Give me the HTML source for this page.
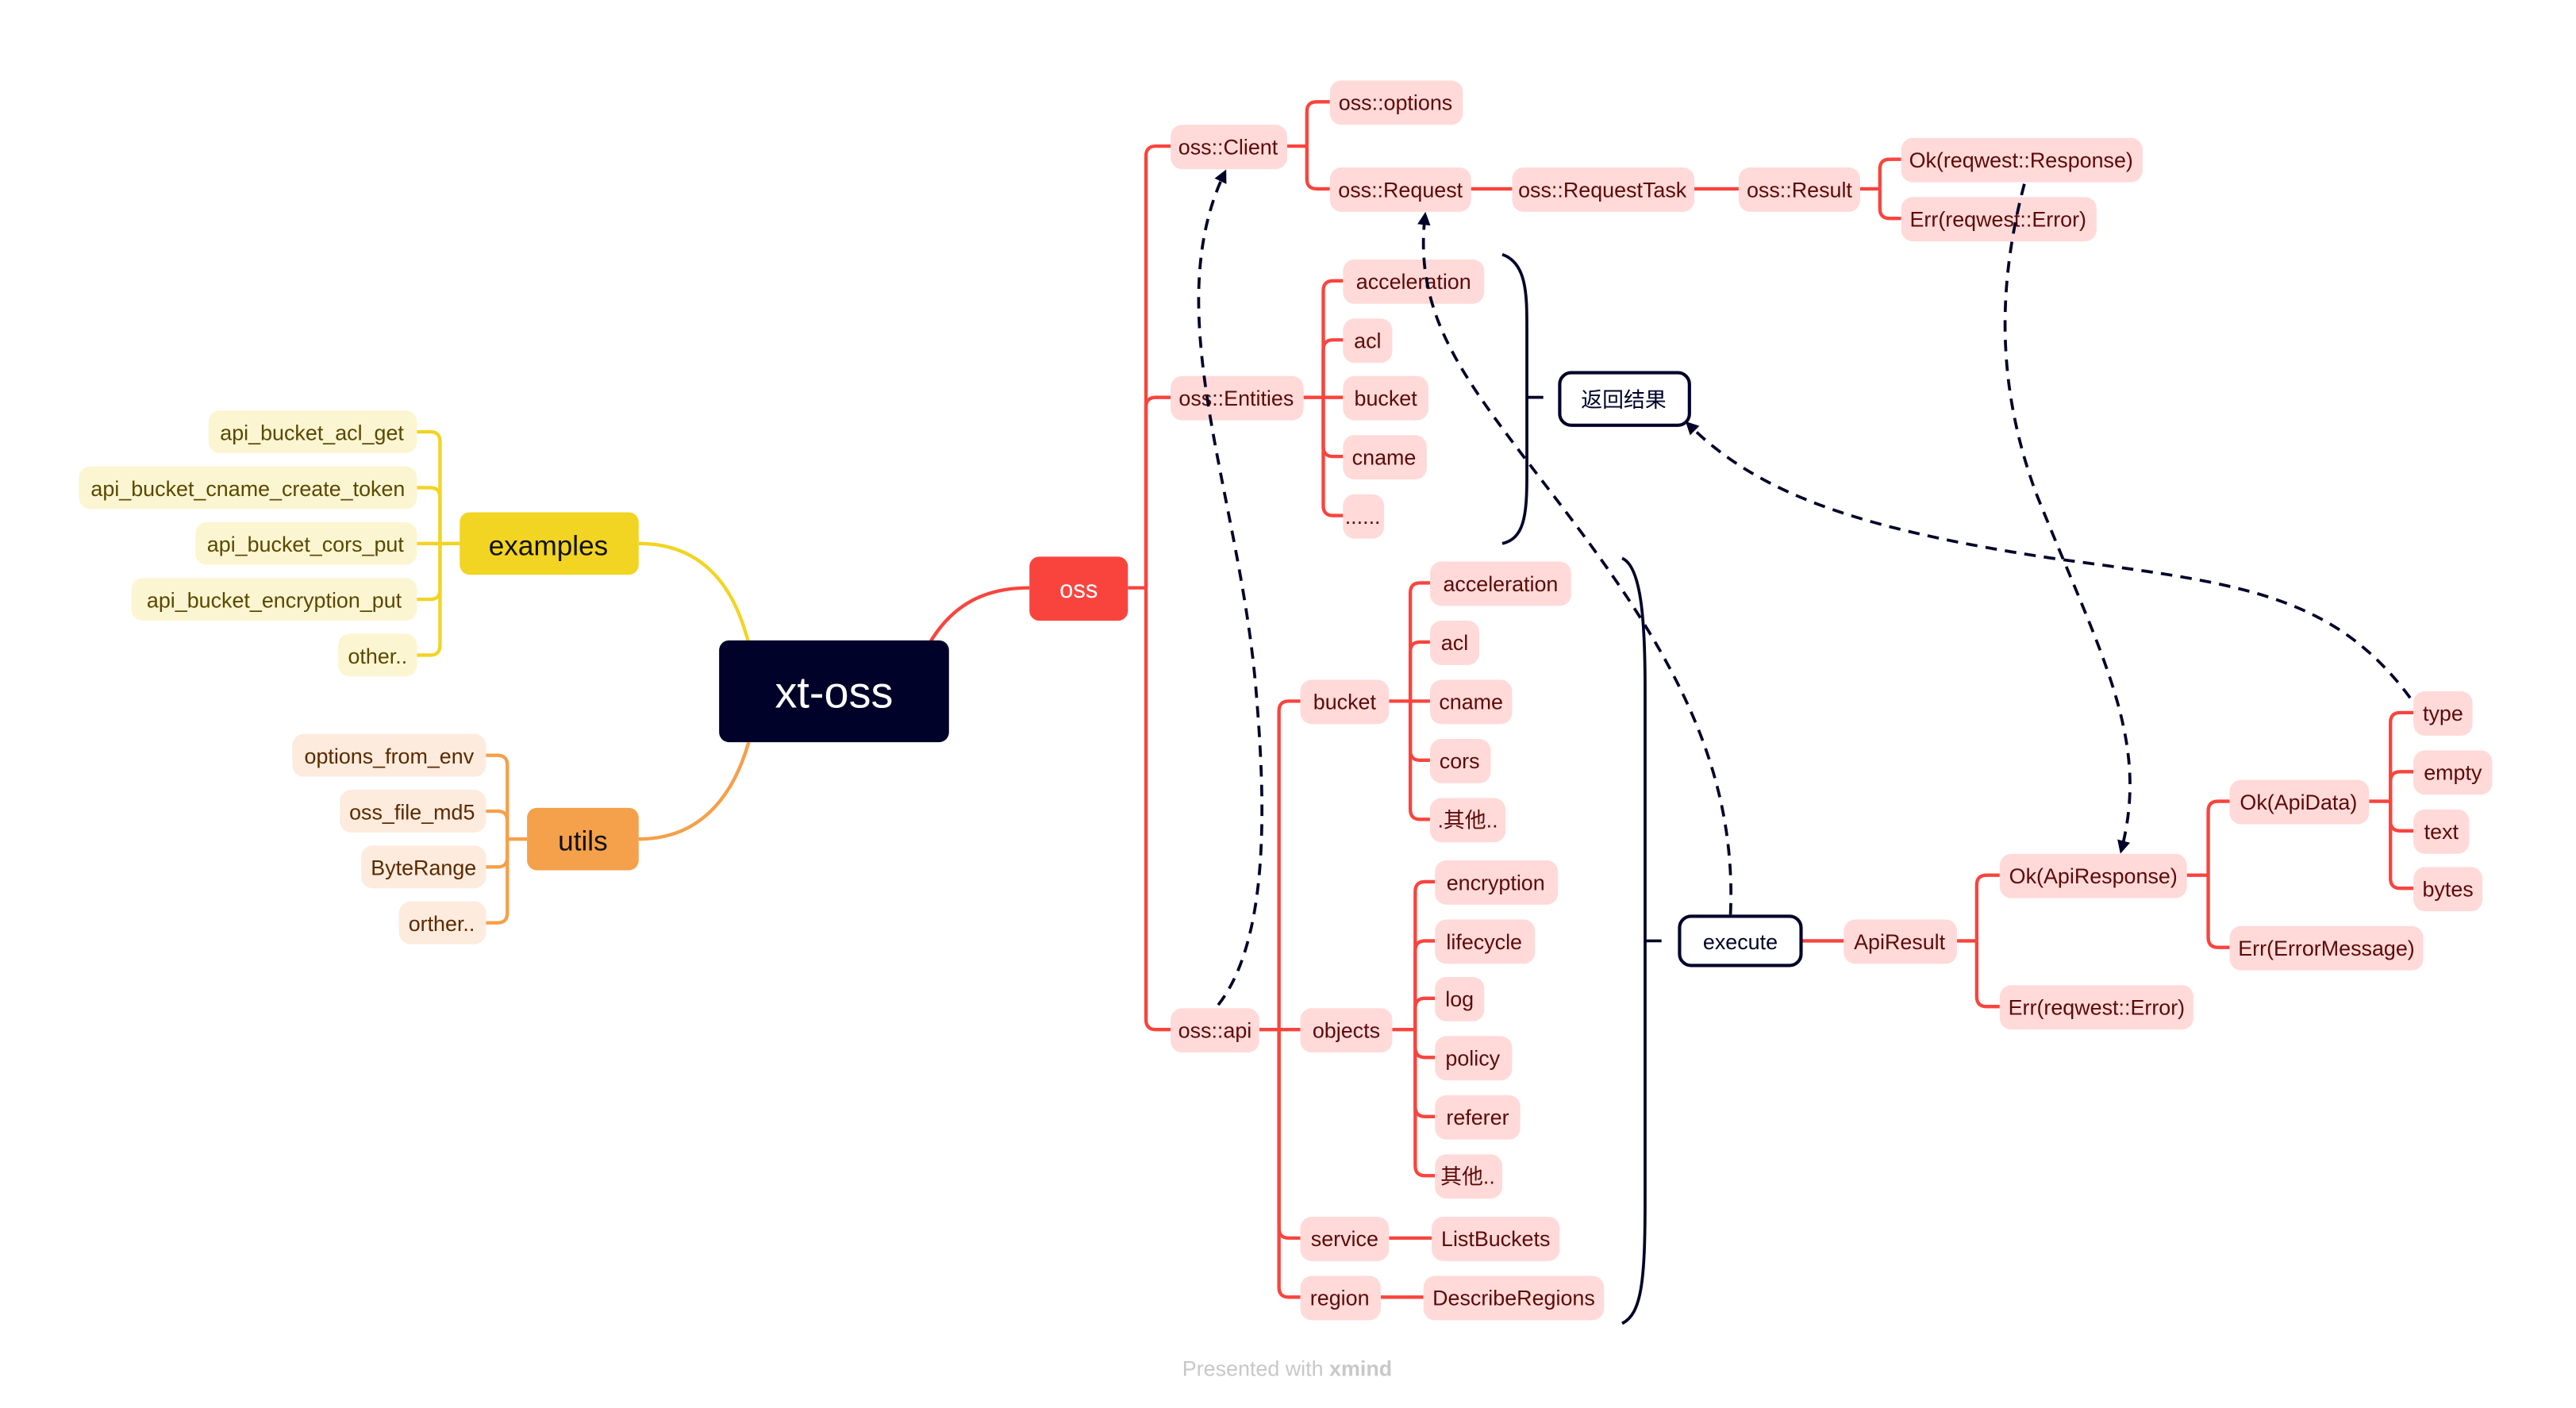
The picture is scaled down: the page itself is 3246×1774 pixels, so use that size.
<!DOCTYPE html>
<html><head><meta charset="utf-8"><style>
html,body{margin:0;padding:0;background:#fff;}
svg{display:block;}
text{font-family:"Liberation Sans","Noto Sans CJK SC",sans-serif;}
.r rect{fill:#FFDAD8;}
.r text{fill:#5c0a0a;font-size:13px;text-anchor:middle;}
.y rect{fill:#FCF5D2;}
.y text{fill:#5a4800;font-size:13px;text-anchor:middle;}
.o rect{fill:#FDEBDD;}
.o text{fill:#5a2a00;font-size:13px;text-anchor:middle;}
.cr{fill:none;stroke:#F9443E;stroke-width:2.1;}
.cy{fill:none;stroke:#F2D422;stroke-width:2.1;}
.co{fill:none;stroke:#F5A04A;stroke-width:2.1;}
.d{fill:none;stroke:#000229;stroke-width:1.8;stroke-dasharray:7 5;}
.b{fill:none;stroke:#000229;stroke-width:1.8;}
</style></head><body>
<svg width="3246" height="1774" viewBox="0 0 1569 857.5" xmlns="http://www.w3.org/2000/svg">
<defs><marker id="a" markerWidth="8" markerHeight="8" refX="6" refY="4" orient="auto" markerUnits="userSpaceOnUse"><path d="M0,0 L8,4 L0,8 z" fill="#000229"/></marker></defs>

<path class="cy" d="M389,331 C430,331 448,360 456,392"/>
<path class="co" d="M389,511 C430,511 448,480 456,452"/>
<path class="cr" d="M566,392 C580,368 600,358 627,358"/>

<g class="cy">
<path d="M280,331 H268"/>
<path d="M268,331 V269 Q268,263 262,263 H254"/>
<path d="M268,331 V303 Q268,297 262,297 H254"/>
<path d="M268,331 H254"/>
<path d="M268,331 V359 Q268,365 262,365 H254"/>
<path d="M268,331 V393 Q268,399 262,399 H254"/>
</g>
<g class="co">
<path d="M321,511 H309"/>
<path d="M309,511 V466 Q309,460 303,460 H296"/>
<path d="M309,511 V500 Q309,494 303,494 H296"/>
<path d="M309,511 V522 Q309,528 303,528 H296"/>
<path d="M309,511 V556 Q309,562 303,562 H296"/>
</g>

<g class="cr">
<path d="M687,358 H698"/>
<path d="M698,358 V95 Q698,89 704,89 H713"/>
<path d="M698,358 V248 Q698,242 704,242 H713"/>
<path d="M698,358 V621 Q698,627 704,627 H713"/>
<path d="M784,89 H796"/>
<path d="M796,89 V68 Q796,62 802,62 H810"/>
<path d="M796,89 V109 Q796,115 802,115 H810"/>
<path d="M896,115 H921"/><path d="M1032,115 H1059"/>
<path d="M1133,115 H1145"/>
<path d="M1145,115 V103 Q1145,97 1151,97 H1158"/>
<path d="M1145,115 V127 Q1145,133 1151,133 H1158"/>
<path d="M794,242 H806"/>
<path d="M806,242 V177 Q806,171 812,171 H818"/>
<path d="M806,242 V213 Q806,207 812,207 H818"/>
<path d="M806,242 H818"/>
<path d="M806,242 V272 Q806,278 812,278 H818"/>
<path d="M806,242 V308 Q806,314 812,314 H818"/>
<path d="M767,627 H779"/>
<path d="M779,627 V433 Q779,427 785,427 H792"/>
<path d="M779,627 H792"/>
<path d="M779,627 V748 Q779,754 785,754 H792"/>
<path d="M779,627 V784 Q779,790 785,790 H792"/>
<path d="M846,427 H859"/>
<path d="M859,427 V361 Q859,355 865,355 H871"/>
<path d="M859,427 V397 Q859,391 865,391 H871"/>
<path d="M859,427 H871"/>
<path d="M859,427 V457 Q859,463 865,463 H871"/>
<path d="M859,427 V493 Q859,499 865,499 H871"/>
<path d="M848,627 H862"/>
<path d="M862,627 V543 Q862,537 868,537 H874"/>
<path d="M862,627 V579 Q862,573 868,573 H874"/>
<path d="M862,627 V614 Q862,608 868,608 H874"/>
<path d="M862,627 V638 Q862,644 868,644 H874"/>
<path d="M862,627 V674 Q862,680 868,680 H874"/>
<path d="M862,627 V710 Q862,716 868,716 H874"/>
<path d="M846,754 H872"/><path d="M841,790 H867"/>
<path d="M1097,573 H1123"/>
<path d="M1192,573 H1204"/>
<path d="M1204,573 V539 Q1204,533 1210,533 H1218"/>
<path d="M1204,573 V607 Q1204,613 1210,613 H1218"/>
<path d="M1332,533 H1345"/>
<path d="M1345,533 V494 Q1345,488 1351,488 H1358"/>
<path d="M1345,533 V571 Q1345,577 1351,577 H1358"/>
<path d="M1443,488 H1456"/>
<path d="M1456,488 V440 Q1456,434 1462,434 H1470"/>
<path d="M1456,488 V476 Q1456,470 1462,470 H1470"/>
<path d="M1456,488 V500 Q1456,506 1462,506 H1470"/>
<path d="M1456,488 V535 Q1456,541 1462,541 H1470"/>
</g>

<path class="b" d="M915,155 C930,160 930,180 930,200 L930,290 C930,315 928,328 915,331"/>
<path class="b" d="M930,242 H940"/>
<path class="b" d="M988,340 C1000,345 1002,380 1002,420 L1002,730 C1002,780 1000,800 988,806"/>
<path class="b" d="M1002,573 H1012"/>

<rect x="438" y="390" width="140" height="62" rx="6" fill="#000229"/>
<text x="508" y="431" fill="#fff" font-size="27" text-anchor="middle">xt-oss</text>
<rect x="280" y="312" width="109" height="38" rx="6" fill="#F2D422"/>
<text x="334" y="338" fill="#111" font-size="17" text-anchor="middle">examples</text>
<rect x="321" y="492" width="68" height="38" rx="6" fill="#F5A04A"/>
<text x="355" y="518" fill="#111" font-size="17" text-anchor="middle">utils</text>
<rect x="627" y="339" width="60" height="39" rx="6" fill="#F9443E"/>
<text x="657" y="364" fill="#fff" font-size="15" text-anchor="middle">oss</text>

<g class="y">
<rect x="127" y="250" width="127" height="26" rx="7"/><text x="190" y="268">api_bucket_acl_get</text>
<rect x="48" y="284" width="206" height="26" rx="7"/><text x="151" y="302">api_bucket_cname_create_token</text>
<rect x="119" y="318" width="135" height="26" rx="7"/><text x="186" y="336">api_bucket_cors_put</text>
<rect x="80" y="352" width="174" height="26" rx="7"/><text x="167" y="370">api_bucket_encryption_put</text>
<rect x="206" y="386" width="48" height="26" rx="7"/><text x="230" y="404">other..</text>
</g>
<g class="o">
<rect x="178" y="447" width="118" height="26" rx="7"/><text x="237" y="465">options_from_env</text>
<rect x="207" y="481" width="89" height="26" rx="7"/><text x="251" y="499">oss_file_md5</text>
<rect x="220" y="515" width="76" height="26" rx="7"/><text x="258" y="533">ByteRange</text>
<rect x="243" y="549" width="53" height="26" rx="7"/><text x="269" y="567">orther..</text>
</g>

<g class="r">
<rect x="713" y="76" width="71" height="27" rx="7"/><text x="748" y="94">oss::Client</text>
<rect x="810" y="49" width="81" height="27" rx="7"/><text x="850" y="67">oss::options</text>
<rect x="810" y="102" width="86" height="27" rx="7"/><text x="853" y="120">oss::Request</text>
<rect x="921" y="102" width="111" height="27" rx="7"/><text x="976" y="120">oss::RequestTask</text>
<rect x="1059" y="102" width="74" height="27" rx="7"/><text x="1096" y="120">oss::Result</text>
<rect x="1158" y="84" width="147" height="27" rx="7"/><text x="1231" y="102">Ok(reqwest::Response)</text>
<rect x="1158" y="120" width="119" height="27" rx="7"/><text x="1217" y="138">Err(reqwest::Error)</text>
<rect x="713" y="229" width="81" height="27" rx="7"/><text x="753" y="247">oss::Entities</text>
<rect x="818" y="158" width="86" height="27" rx="7"/><text x="861" y="176">acceleration</text>
<rect x="818" y="194" width="30" height="27" rx="7"/><text x="833" y="212">acl</text>
<rect x="818" y="229" width="52" height="27" rx="7"/><text x="844" y="247">bucket</text>
<rect x="818" y="265" width="51" height="27" rx="7"/><text x="843" y="283">cname</text>
<rect x="818" y="301" width="25" height="27" rx="7"/><text x="830" y="319" font-size="9">......</text>
<rect x="713" y="614" width="54" height="27" rx="7"/><text x="740" y="632">oss::api</text>
<rect x="792" y="414" width="54" height="27" rx="7"/><text x="819" y="432">bucket</text>
<rect x="792" y="614" width="56" height="27" rx="7"/><text x="820" y="632">objects</text>
<rect x="792" y="741" width="54" height="27" rx="7"/><text x="819" y="759">service</text>
<rect x="792" y="777" width="49" height="27" rx="7"/><text x="816" y="795">region</text>
<rect x="871" y="342" width="86" height="27" rx="7"/><text x="914" y="360">acceleration</text>
<rect x="871" y="378" width="30" height="27" rx="7"/><text x="886" y="396">acl</text>
<rect x="871" y="414" width="50" height="27" rx="7"/><text x="896" y="432">cname</text>
<rect x="871" y="450" width="37" height="27" rx="7"/><text x="889" y="468">cors</text>
<rect x="871" y="486" width="46" height="27" rx="7"/><text x="894" y="504">.其他..</text>
<rect x="874" y="524" width="75" height="27" rx="7"/><text x="911" y="542">encryption</text>
<rect x="874" y="560" width="61" height="27" rx="7"/><text x="904" y="578">lifecycle</text>
<rect x="874" y="595" width="30" height="27" rx="7"/><text x="889" y="613">log</text>
<rect x="874" y="631" width="47" height="27" rx="7"/><text x="897" y="649">policy</text>
<rect x="874" y="667" width="52" height="27" rx="7"/><text x="900" y="685">referer</text>
<rect x="874" y="703" width="41" height="27" rx="7"/><text x="894" y="721">其他..</text>
<rect x="872" y="741" width="78" height="27" rx="7"/><text x="911" y="759">ListBuckets</text>
<rect x="867" y="777" width="110" height="27" rx="7"/><text x="922" y="795">DescribeRegions</text>
<rect x="1123" y="560" width="69" height="27" rx="7"/><text x="1157" y="578">ApiResult</text>
<rect x="1218" y="520" width="114" height="27" rx="7"/><text x="1275" y="538">Ok(ApiResponse)</text>
<rect x="1218" y="600" width="118" height="27" rx="7"/><text x="1277" y="618">Err(reqwest::Error)</text>
<rect x="1358" y="475" width="85" height="27" rx="7"/><text x="1400" y="493">Ok(ApiData)</text>
<rect x="1358" y="564" width="118" height="27" rx="7"/><text x="1417" y="582">Err(ErrorMessage)</text>
<rect x="1470" y="421" width="36" height="27" rx="7"/><text x="1488" y="439">type</text>
<rect x="1470" y="457" width="48" height="27" rx="7"/><text x="1494" y="475">empty</text>
<rect x="1470" y="493" width="34" height="27" rx="7"/><text x="1487" y="511">text</text>
<rect x="1470" y="528" width="42" height="27" rx="7"/><text x="1491" y="546">bytes</text>
</g>

<rect x="950" y="227" width="79" height="32" rx="7" fill="#fff" stroke="#000229" stroke-width="2"/>
<text x="989" y="248" fill="#000229" font-size="13" text-anchor="middle">返回结果</text>
<rect x="1023" y="558" width="74" height="30" rx="7" fill="#fff" stroke="#000229" stroke-width="2"/>
<text x="1060" y="578" fill="#000229" font-size="13" text-anchor="middle">execute</text>

<path class="d" marker-end="url(#a)" d="M742,612 C775,570 770,480 765,420 C755,300 705,190 746,105"/>
<path class="d" marker-end="url(#a)" d="M1054,557 C1058,470 1020,400 960,320 C900,240 860,200 868,131"/>
<path class="d" marker-end="url(#a)" d="M1468,425 C1420,360 1360,355 1250,340 C1130,322 1070,300 1028,258"/>
<path class="d" marker-end="url(#a)" d="M1233,112 C1215,180 1218,240 1240,300 C1280,400 1310,450 1292,518"/>

<text x="784" y="838" fill="#c8c8c8" font-size="13" text-anchor="middle">Presented with <tspan font-weight="bold">xmind</tspan></text>
</svg>
</body></html>
